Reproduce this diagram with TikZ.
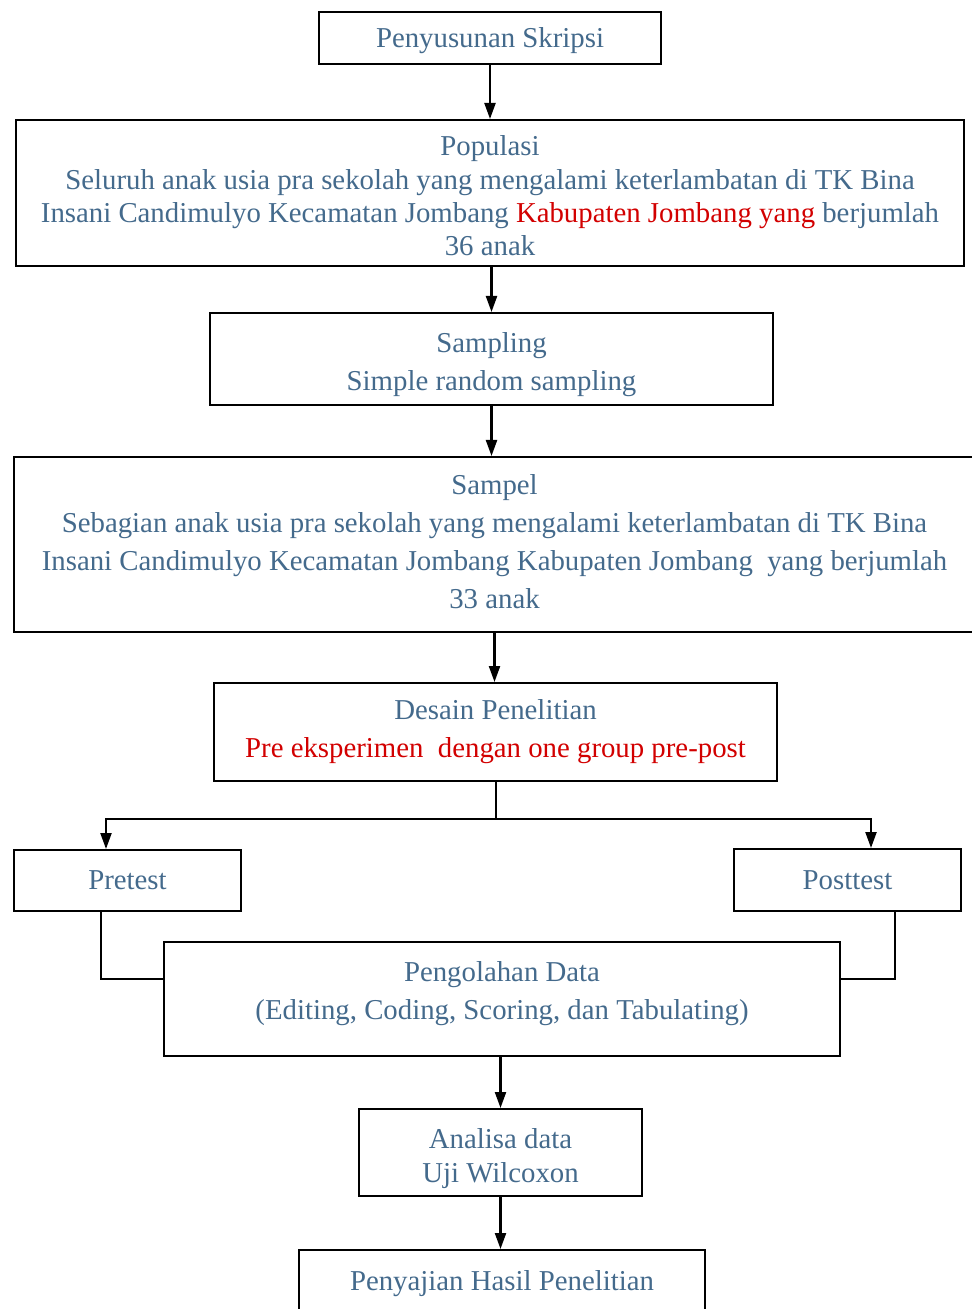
\documentclass[tikz,border=0pt]{standalone}
\usepackage{fontspec}
\setmainfont{Liberation Serif}
\usepackage{xcolor}
\usetikzlibrary{arrows.meta}
\definecolor{txtblue}{RGB}{68,106,140}
\definecolor{txtred}{RGB}{210,0,0}

\begin{document}
\begin{tikzpicture}[
    x=0.5pt, y=-0.5pt,
    box/.style={draw, line width=1pt, rectangle, align=center, text=txtblue,
        font=\fontsize{14.4}{19}\selectfont},
    arrow/.style={-{Triangle[length=8pt,width=5.5pt]}, line width=1.1pt},
    link/.style={line width=1pt}
]
\useasboundingbox (0,0) rectangle (971,1309);

\node[box, minimum width=171pt, minimum height=26pt, text depth=0pt] (skripsi) at (490,38) {Penyusunan Skripsi};
\node[box, minimum width=474pt, minimum height=73pt, font=\fontsize{14.4}{16.7}\selectfont] (populasi) at (490,193)
    {\rule{0pt}{13pt}Populasi\\Seluruh anak usia pra sekolah yang mengalami keterlambatan di TK Bina\\Insani Candimulyo Kecamatan Jombang \textcolor{txtred}{Kabupaten Jombang yang} berjumlah\\36 anak};
\node[box, minimum width=281.5pt, minimum height=46pt] (sampling) at (491.5,359) {\rule{0pt}{16pt}Sampling\\Simple random sampling};
\node[box, minimum width=481pt, minimum height=87.5pt] (sampel) at (494.5,544.5)
    {Sampel\\Sebagian anak usia pra sekolah yang mengalami keterlambatan di TK Bina\\Insani Candimulyo Kecamatan Jombang Kabupaten Jombang ~yang berjumlah\\33 anak\rule[-3pt]{0pt}{3pt}};
\node[box, minimum width=281.5pt, minimum height=49pt] (desain) at (495.5,732)
    {Desain Penelitian\\\textcolor{txtred}{Pre eksperimen ~dengan one group pre-post}};
\node[box, minimum width=113.5pt, minimum height=30.5pt] (pretest) at (127.5,880.5) {Pretest};
\node[box, minimum width=113.5pt, minimum height=31pt] (posttest) at (847.5,880) {Posttest};
\node[box, minimum width=338pt, minimum height=57pt] (olah) at (502,999)
    {Pengolahan Data\\(Editing, Coding, Scoring, dan Tabulating)\\[-10pt]\mbox{}};
\node[box, minimum width=141.5pt, minimum height=43.5pt, font=\fontsize{14.4}{17}\selectfont] (analisa) at (500.5,1152.5)
    {\rule{0pt}{16pt}Analisa data\\Uji Wilcoxon};
\node[box, minimum width=203pt, minimum height=30pt, text depth=0pt] (hasil) at (502,1280) {Penyajian Hasil Penelitian};

\draw[arrow] (skripsi) -- (populasi);
\draw[arrow] (populasi.south -| sampling) -- (sampling);
\draw[arrow] (sampling.south) -- (sampling.south |- sampel.north);
\draw[arrow] (sampel.south) -- (sampel.south |- desain.north);
\draw[link] (desain.south) -- ++(0,37) coordinate (split);
\draw[arrow] (split) -| ([xshift=-10.75pt]pretest.north);
\draw[arrow] (split) -| ([xshift=11.75pt]posttest.north);
\draw[link] ([xshift=-13.25pt]pretest.south) |- ([yshift=10pt]olah.west);
\draw[link] ([xshift=23.75pt]posttest.south) |- ([yshift=10pt]olah.east);
\draw[arrow] (olah.south -| analisa) -- (analisa);
\draw[arrow] (analisa.south) -- (analisa.south |- hasil.north);
\end{tikzpicture}
\end{document}
